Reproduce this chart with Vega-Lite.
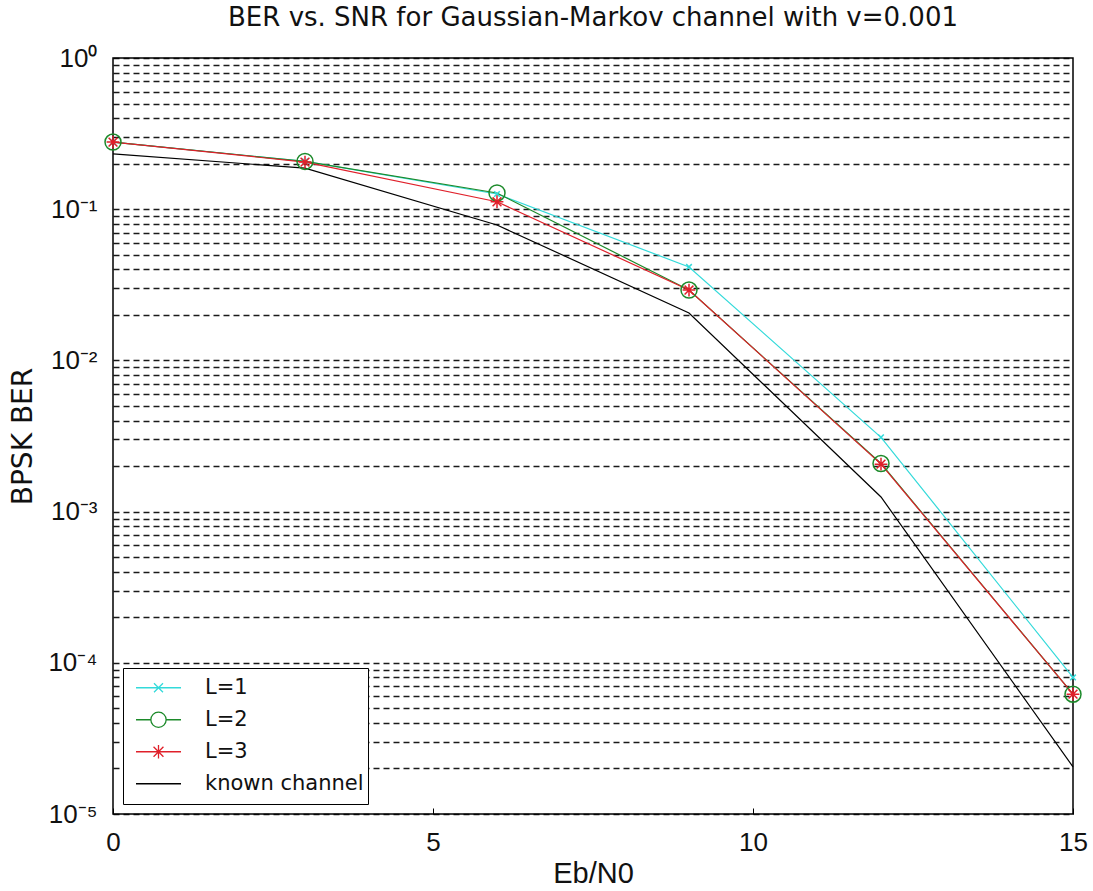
{
  "$schema": "https://vega.github.io/schema/vega-lite/v6.json",
  "width": 960,
  "height": 756,
  "autosize": {"type": "none"},
  "padding": {"left": 113, "top": 58, "right": 20, "bottom": 77},
  "background": "white",
  "config": {
    "font": "Liberation Sans",
    "view": {"stroke": "black", "strokeWidth": 1.5}
  },
  "title": {
    "text": "BER vs. SNR for Gaussian-Markov channel with v=0.001",
    "font": "DejaVu Sans",
    "fontSize": 26,
    "fontWeight": "normal",
    "color": "#111111",
    "offset": 14,
    "anchor": "middle"
  },
  "data": {
    "values": [
      {"series": "L=1", "snr": 0, "ber": 0.278},
      {"series": "L=1", "snr": 3, "ber": 0.207},
      {"series": "L=1", "snr": 6, "ber": 0.126},
      {"series": "L=1", "snr": 9, "ber": 0.0415},
      {"series": "L=1", "snr": 12, "ber": 0.0031},
      {"series": "L=1", "snr": 15, "ber": 0.00008},
      {"series": "L=2", "snr": 0, "ber": 0.278},
      {"series": "L=2", "snr": 3, "ber": 0.207},
      {"series": "L=2", "snr": 6, "ber": 0.128},
      {"series": "L=2", "snr": 9, "ber": 0.0292},
      {"series": "L=2", "snr": 12, "ber": 0.00208},
      {"series": "L=2", "snr": 15, "ber": 0.000062},
      {"series": "L=3", "snr": 0, "ber": 0.278},
      {"series": "L=3", "snr": 3, "ber": 0.205},
      {"series": "L=3", "snr": 6, "ber": 0.112},
      {"series": "L=3", "snr": 9, "ber": 0.0292},
      {"series": "L=3", "snr": 12, "ber": 0.00206},
      {"series": "L=3", "snr": 15, "ber": 0.000062},
      {"series": "known channel", "snr": 0, "ber": 0.232},
      {"series": "known channel", "snr": 3, "ber": 0.187},
      {"series": "known channel", "snr": 6, "ber": 0.0786},
      {"series": "known channel", "snr": 9, "ber": 0.0206},
      {"series": "known channel", "snr": 12, "ber": 0.00125},
      {"series": "known channel", "snr": 15, "ber": 0.0000205}
    ]
  },
  "encoding": {
    "x": {
      "field": "snr",
      "type": "quantitative",
      "scale": {"domain": [0, 15], "nice": false, "zero": false},
      "axis": {
        "title": "Eb/N0",
        "values": [0, 5, 10, 15],
        "grid": false,
        "domain": false,
        "ticks": true,
        "tickSize": -6,
        "tickColor": "black",
        "labelFlush": false,
        "labelFontSize": 26,
        "labelColor": "#111111",
        "labelPadding": 21,
        "titleFont": "Liberation Sans",
        "titleFontSize": 29,
        "titleFontWeight": "normal",
        "titleColor": "#111111",
        "titlePadding": 4
      }
    },
    "y": {
      "field": "ber",
      "type": "quantitative",
      "scale": {"type": "log", "domain": [0.00001, 1], "nice": false},
      "axis": {
        "title": "BPSK BER",
        "values": [0.00001, 0.00002, 0.00003, 0.00004, 0.00005, 0.00006, 0.00007, 0.00008, 0.00009,
                   0.0001, 0.0002, 0.0003, 0.0004, 0.0005, 0.0006, 0.0007, 0.0008, 0.0009,
                   0.001, 0.002, 0.003, 0.004, 0.005, 0.006, 0.007, 0.008, 0.009,
                   0.01, 0.02, 0.03, 0.04, 0.05, 0.06, 0.07, 0.08, 0.09,
                   0.1, 0.2, 0.3, 0.4, 0.5, 0.6, 0.7, 0.8, 0.9, 1],
        "labelExpr": "abs(log(datum.value)/LN10 - round(log(datum.value)/LN10)) < 0.000001 ? ['10⁻⁵','10⁻⁴','10⁻³','10⁻²','10⁻¹','10⁰'][round(log(datum.value)/LN10)+5] : ''",
        "grid": true,
        "gridColor": "black",
        "gridDash": [6, 4],
        "gridWidth": 1.5,
        "gridOpacity": 0.9,
        "domain": false,
        "ticks": false,
        "labelFlush": false,
        "labelFontSize": 26,
        "labelColor": "#111111",
        "labelPadding": 16,
        "titleFont": "DejaVu Sans",
        "titleFontSize": 28,
        "titleFontWeight": "normal",
        "titleColor": "#111111",
        "titlePadding": 10
      }
    },
    "color": {
      "field": "series",
      "type": "nominal",
      "scale": {
        "domain": ["L=1", "L=2", "L=3", "known channel"],
        "range": ["#33dada", "#1c8a2a", "#e0202a", "#000000"]
      },
      "legend": {
        "title": null,
        "orient": "bottom-left",
        "offset": 10,
        "fillColor": "white",
        "strokeColor": "black",
        "padding": 4,
        "symbolSize": 2025,
        "symbolOffset": 8,
        "clipHeight": 31.5,
        "rowPadding": 0,
        "labelFont": "DejaVu Sans",
        "labelFontSize": 21,
        "labelColor": "#111111",
        "labelOffset": 23,
        "labelLimit": 400,
        "encode": {
          "symbols": {
            "update": {
              "shape": {"signal": "datum.value === 'L=1' ? 'M-1,0H1M-0.2,-0.2L0.2,0.2M-0.2,0.2L0.2,-0.2' : datum.value === 'L=2' ? 'M-1,0H-0.34M0.34,0H1M0.34,0A0.34,0.34 0 1,1 -0.34,0A0.34,0.34 0 1,1 0.34,0' : datum.value === 'L=3' ? 'M-1,0H1M0,-0.3V0.3M-0.22,-0.22L0.22,0.22M-0.22,0.22L0.22,-0.22' : 'M-1,0H1'"},
              "fill": {"value": "transparent"},
              "stroke": {"scale": "color", "field": "value"},
              "strokeWidth": {"value": 1.3}
            }
          }
        }
      }
    }
  },
  "layer": [
    {
      "mark": {"type": "line", "strokeWidth": 1.2}
    },
    {
      "transform": [{"filter": "datum.series !== 'known channel'"}],
      "mark": {"type": "point", "filled": false, "strokeWidth": 1.5, "size": 256, "opacity": 1},
      "encoding": {
        "shape": {
          "field": "series",
          "type": "nominal",
          "scale": {
            "domain": ["L=1", "L=2", "L=3"],
            "range": [
              "M-0.35,-0.35L0.35,0.35M-0.35,0.35L0.35,-0.35",
              "circle",
              "M-0.8,0H0.8M0,-0.8V0.8M-0.55,-0.55L0.55,0.55M-0.55,0.55L0.55,-0.55"
            ]
          },
          "legend": null
        }
      }
    }
  ]
}
